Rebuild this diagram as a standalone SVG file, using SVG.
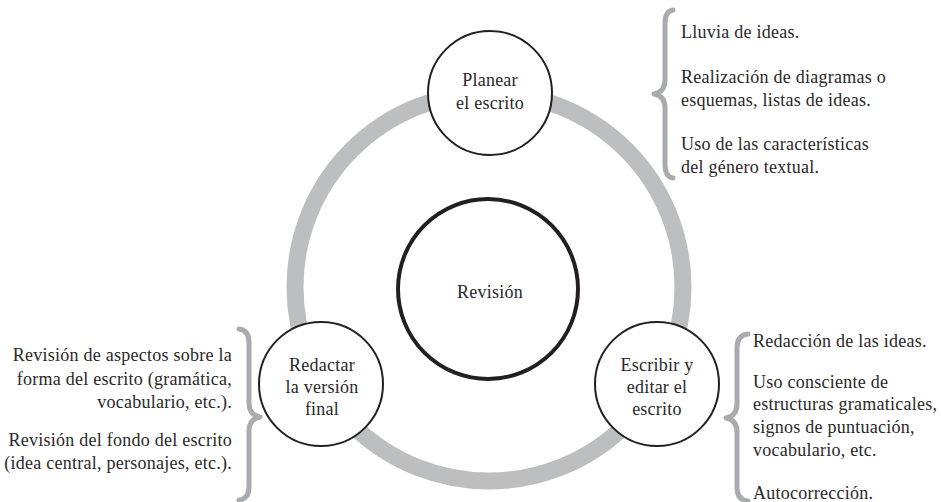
<svg xmlns="http://www.w3.org/2000/svg" width="941" height="502" viewBox="0 0 941 502" font-family="'Liberation Serif', 'Times New Roman', Times, serif">
  <style>
    .t { font-size: 18px; fill: #2b2828; letter-spacing: 0.25px; }
    .c { text-anchor: middle; }
    .e { text-anchor: end; }
    .node { fill: #ffffff; stroke: #231f20; stroke-width: 2; }
    .brace { fill: none; stroke: #a9abae; stroke-width: 5; stroke-linecap: round; stroke-linejoin: round; }
  </style>
  <rect width="941" height="502" fill="#ffffff"/>
  <g id="connectors">
    <circle cx="489" cy="287" r="194" fill="none" stroke="#bcbec0" stroke-width="17"/>
  </g>
  <g id="revision">
    <circle cx="488" cy="289" r="90" fill="#ffffff" stroke="#231f20" stroke-width="4"/>
    <text class="t c" x="490" y="298">Revisión</text>
  </g>
  <g id="planear">
    <circle class="node" cx="490" cy="93" r="62"/>
    <text class="t c" x="490" y="86">Planear</text>
    <text class="t c" x="490" y="109">el escrito</text>
  </g>
  <g id="escribir">
    <circle class="node" cx="657" cy="384" r="62"/>
    <text class="t c" x="657" y="371">Escribir y</text>
    <text class="t c" x="657" y="393">editar el</text>
    <text class="t c" x="657" y="415">escrito</text>
  </g>
  <g id="redactar">
    <circle class="node" cx="321" cy="384" r="62"/>
    <text class="t c" x="322" y="371">Redactar</text>
    <text class="t c" x="322" y="393">la versión</text>
    <text class="t c" x="322" y="415">final</text>
  </g>
  <g id="planear-notes">
    <path class="brace" d="M673,10 Q665,11 665,24 L665,80 Q665,92 654,94 Q665,96 665,108 L665,164 Q665,177 673,178"/>
    <text class="t" x="681" y="38">Lluvia de ideas.</text>
    <text class="t" x="681" y="83">Realización de diagramas o</text>
    <text class="t" x="681" y="106">esquemas, listas de ideas.</text>
    <text class="t" x="681" y="150">Uso de las características</text>
    <text class="t" x="681" y="173">del género textual.</text>
  </g>
  <g id="escribir-notes">
    <path class="brace" d="M748,334 Q737,335 737,348 L737,404 Q737,416 726,418 Q737,420 737,432 L737,488 Q737,500 748,501"/>
    <text class="t" x="753" y="347">Redacción de las ideas.</text>
    <text class="t" x="753" y="388">Uso consciente de</text>
    <text class="t" x="753" y="410">estructuras gramaticales,</text>
    <text class="t" x="753" y="433">signos de puntuación,</text>
    <text class="t" x="753" y="456">vocabulario, etc.</text>
    <text class="t" x="753" y="499">Autocorrección.</text>
  </g>
  <g id="redactar-notes">
    <path class="brace" d="M239,329 Q249,330 249,343 L249,403 Q249,415 260,417 Q249,419 249,431 L249,487 Q249,499 239,500"/>
    <text class="t e" x="232" y="361">Revisión de aspectos sobre la</text>
    <text class="t e" x="232" y="385">forma del escrito (gramática,</text>
    <text class="t e" x="232" y="408">vocabulario, etc.).</text>
    <text class="t e" x="232" y="446">Revisión del fondo del escrito</text>
    <text class="t e" x="232" y="469">(idea central, personajes, etc.).</text>
  </g>
</svg>
